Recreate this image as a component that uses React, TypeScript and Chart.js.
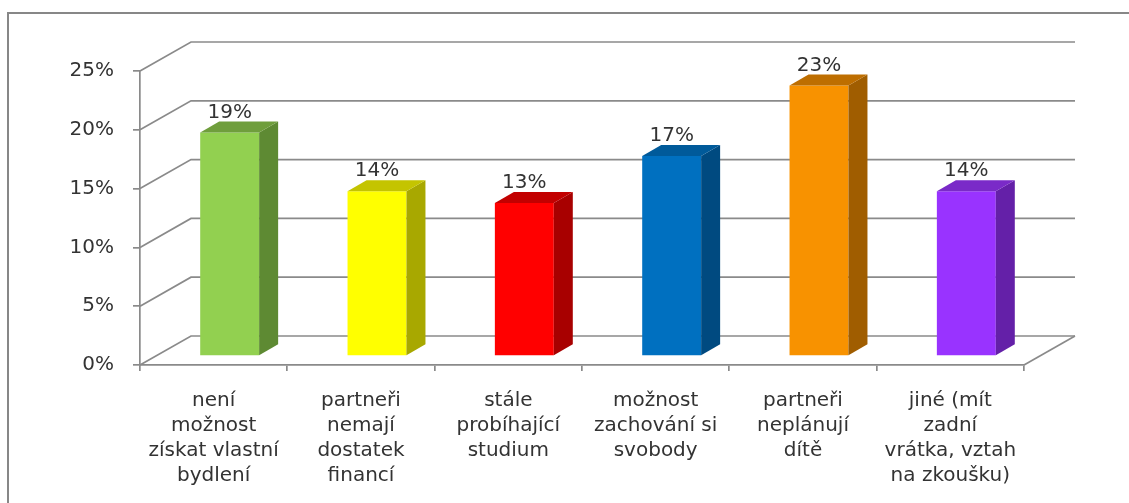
import React, { useEffect, useRef } from 'react';
import { Chart, registerables } from 'chart.js';

Chart.register(...registerables);

const categories: string[][] = [
  ['není', 'možnost', 'získat vlastní', 'bydlení'],
  ['partneři', 'nemají', 'dostatek', 'financí'],
  ['stále', 'probíhající', 'studium'],
  ['možnost', 'zachování si', 'svobody'],
  ['partneři', 'neplánují', 'dítě'],
  ['jiné (mít', 'zadní', 'vrátka, vztah', 'na zkoušku)'],
];
const values: number[] = [19, 14, 13, 17, 23, 14];
const frontColors: string[] = ['#92D050', '#FFFF00', '#FF0000', '#0070C0', '#F89200', '#9933FF'];
const sideColors: string[] = ['#5E8A33', '#A8A800', '#A80000', '#004A80', '#A05D00', '#6420A8'];
const topColors: string[] = ['#6F9E3C', '#C4C400', '#C20000', '#005A9A', '#BE6E00', '#7A2AC8'];
const yTickValues: number[] = [0, 5, 10, 15, 20, 25];

const GRID = '#8a8a8a';
const TEXT = '#333333';
const FONT = 'DejaVu Sans';
const WALL_DX = 51;
const WALL_DY = 29;
const BAR_OFF_X = 16;
const BAR_OFF_Y = 9;
const BAR_DX = 19;
const BAR_DY = 11;

const threeD = {
  id: 'threeD',
  beforeDraw(chart: any) {
    const ctx = chart.ctx;
    ctx.save();
    ctx.strokeStyle = '#878787';
    ctx.lineWidth = 2;
    ctx.strokeRect(8, 13, 1300, 700);
    ctx.restore();
  },
  beforeDatasetsDraw(chart: any) {
    const { ctx, chartArea, scales } = chart;
    const y = scales.y;
    ctx.save();
    ctx.strokeStyle = GRID;
    ctx.lineWidth = 1.7;
    for (const t of yTickValues) {
      const py = y.getPixelForValue(t);
      ctx.beginPath();
      ctx.moveTo(chartArea.left, py);
      ctx.lineTo(chartArea.left + WALL_DX, py - WALL_DY);
      ctx.lineTo(chartArea.right + WALL_DX, py - WALL_DY);
      ctx.stroke();
    }
    const p0 = y.getPixelForValue(0);
    ctx.beginPath();
    ctx.moveTo(chartArea.right, p0);
    ctx.lineTo(chartArea.right + WALL_DX, p0 - WALL_DY);
    ctx.stroke();
    ctx.restore();
  },
  beforeDatasetDraw(chart: any) {
    chart.ctx.save();
    chart.ctx.translate(BAR_OFF_X, -BAR_OFF_Y);
  },
  afterDatasetDraw(chart: any, args: any) {
    const ctx = chart.ctx;
    const meta = chart.getDatasetMeta(args.index);
    meta.data.forEach((bar: any, i: number) => {
      const { x, y, base, width } = bar.getProps(['x', 'y', 'base', 'width'], true);
      const l = x - width / 2;
      const r = x + width / 2;
      ctx.fillStyle = sideColors[i];
      ctx.beginPath();
      ctx.moveTo(r, y);
      ctx.lineTo(r + BAR_DX, y - BAR_DY);
      ctx.lineTo(r + BAR_DX, base - BAR_DY);
      ctx.lineTo(r, base);
      ctx.closePath();
      ctx.fill();
      ctx.fillStyle = topColors[i];
      ctx.beginPath();
      ctx.moveTo(l, y);
      ctx.lineTo(l + BAR_DX, y - BAR_DY);
      ctx.lineTo(r + BAR_DX, y - BAR_DY);
      ctx.lineTo(r, y);
      ctx.closePath();
      ctx.fill();
    });
    ctx.restore();
  },
  afterDatasetsDraw(chart: any) {
    const ctx = chart.ctx;
    const meta = chart.getDatasetMeta(0);
    ctx.save();
    ctx.fillStyle = TEXT;
    ctx.font = `20px "${FONT}"`;
    ctx.textAlign = 'center';
    ctx.textBaseline = 'alphabetic';
    meta.data.forEach((bar: any, i: number) => {
      const { x, y } = bar.getProps(['x', 'y'], true);
      ctx.fillText(`${values[i]}%`, x + BAR_OFF_X, y - BAR_OFF_Y - BAR_DY - 4);
    });
    ctx.restore();
  },
};

export default function App() {
  const ref = useRef<HTMLCanvasElement | null>(null);
  useEffect(() => {
    if (!ref.current) return;
    const chart = new Chart(ref.current, {
      type: 'bar',
      data: {
        labels: categories,
        datasets: [
          {
            data: values,
            backgroundColor: frontColors,
            borderWidth: 0,
            barPercentage: 0.4,
            categoryPercentage: 1,
          },
        ],
      },
      options: {
        animation: false,
        responsive: false,
        events: [],
        layout: { padding: { left: 0, right: 105, top: 71, bottom: 0 } },
        plugins: { legend: { display: false }, tooltip: { enabled: false } },
        scales: {
          x: {
            afterFit: (s: any) => {
              s.height = 138;
            },
            grid: {
              offset: true,
              drawOnChartArea: false,
              drawTicks: true,
              tickLength: 6,
              color: GRID,
              lineWidth: 1.7,
            },
            border: { display: true, color: GRID, width: 1.7 },
            ticks: {
              autoSkip: false,
              maxRotation: 0,
              minRotation: 0,
              padding: 17,
              color: TEXT,
              font: { family: FONT, size: 20, lineHeight: 1.25 },
            },
          },
          y: {
            min: 0,
            max: 25,
            afterFit: (s: any) => {
              s.width = 140;
            },
            grid: {
              drawOnChartArea: false,
              drawTicks: true,
              tickLength: 7,
              color: GRID,
              lineWidth: 1.7,
            },
            border: { display: true, color: GRID, width: 1.7 },
            ticks: {
              stepSize: 5,
              padding: 19,
              color: TEXT,
              font: { family: FONT, size: 20 },
              callback: (v: any) => `${v}%`,
            },
          },
        },
      },
      plugins: [threeD],
    });
    return () => chart.destroy();
  }, []);
  return (
    <div style={{ position: 'absolute', left: 0, top: 0, width: 1129, height: 503, background: '#fff' }}>
      <canvas ref={ref} width={1129} height={503} style={{ display: 'block' }} />
    </div>
  );
}
